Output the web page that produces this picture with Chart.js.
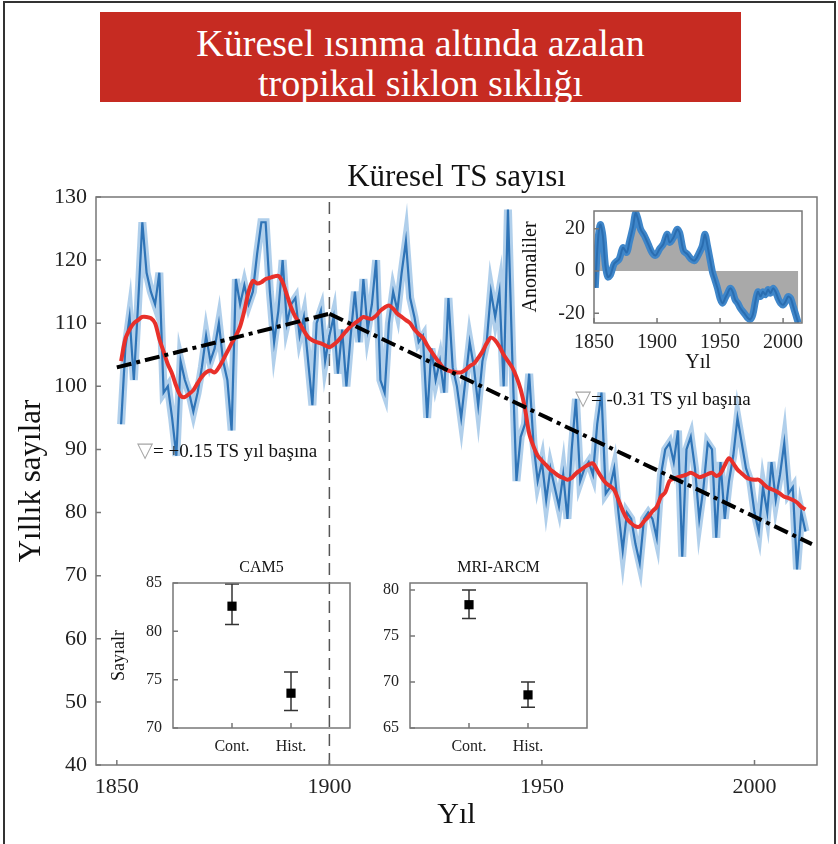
<!DOCTYPE html>
<html>
<head>
<meta charset="utf-8">
<script src="https://cdn.jsdelivr.net/npm/chart.js@4.4.0/dist/chart.umd.min.js"></script>
<style>
  body { margin: 0; background: #fff; font-family: "Liberation Serif", "Times New Roman", serif; }
  #page { position: relative; width: 838px; height: 844px; overflow: hidden; }
  #frame { position: absolute; left: 3px; top: 1px; width: 829px; height: 900px; border: 2px solid #333; border-bottom: none; }
  #banner { position: absolute; left: 100px; top: 12px; width: 641px; height: 90px; background: #c62b22;
            color: #fff; text-align: center; font-size: 38px; line-height: 40px; padding-top: 11px; box-sizing: border-box; }
  canvas { position: absolute; }
  .note { position: absolute; font-size: 19px; line-height: 22px; color: #111; white-space: nowrap; }
  .note span { color: #a8a8a8; font-size: 21px; }
</style>
</head>
<body>
<div id="page">
  <div id="frame"></div>
  <div id="banner">Küresel ısınma altında azalan<br>tropikal siklon sıklığı</div>
  <canvas id="main" width="838" height="694" style="left:0;top:150px"></canvas>
  <canvas id="anom" width="320" height="185" style="left:505px;top:190px"></canvas>
  <canvas id="cam5" width="260" height="210" style="left:100px;top:550px"></canvas>
  <canvas id="mri" width="240" height="210" style="left:360px;top:550px"></canvas>
  <div class="note" style="left:137px;top:439px"><span>▽</span>= +0.15 TS yıl başına</div>
  <div class="note" style="left:575px;top:387px"><span>▽</span>= -0.31 TS yıl başına</div>
</div>
<script>
// --------------------
// Data
// --------------------
const years = [];
for (let y = 1851; y <= 2012; y++) years.push(y);

// yearly global TS counts (blue)
const tsCounts = [
  94, 106, 111, 101, 113, 126, 118, 115, 113, 118,
  99, 100, 95, 89, 104, 101, 99, 96, 99, 103,
  108, 104, 106, 110, 104, 101, 93, 117, 113, 116,
  113, 115, 121, 126, 126, 115, 107, 112, 120, 110,
  113, 114, 108, 111, 104, 97, 110, 112, 104, 108,
  111, 102, 109, 100, 108, 115, 107, 117, 109, 113,
  120, 101, 99, 110, 115, 112, 118, 123, 114, 111,
  107, 108, 95, 106, 101, 104, 99, 114, 103, 100,
  95, 101, 107, 103, 97, 104, 107, 115, 111, 115,
  100, 128, 105, 85, 92, 94, 102, 91, 85, 88,
  82, 87, 84, 81, 86, 79, 90, 98, 85, 87,
  88, 86, 94, 99, 83, 84, 87, 80, 74, 80,
  79, 75, 72, 79, 80, 79, 76, 86, 90, 91,
  88, 93, 73, 90, 92, 87, 79, 84, 91, 90,
  76, 88, 79, 85, 89, 95, 91, 87, 85, 80,
  77, 84, 80, 88, 82, 86, 91, 83, 84, 71,
  80, 77
];

// smoothed counts (red)
const tsSmooth = [
  104, 107.5, 109, 110, 110.5, 111, 111, 110.8, 110, 107.5,
  105.5, 103.5, 102, 100, 98.5, 98.3, 98.8, 99.4, 100.5, 101.5,
  102.2, 102.5, 102.2, 103, 104.2, 105.5, 106.8, 108, 109.5, 112,
  115, 116.7, 116.3, 116.5, 117, 117.2, 117.4, 117.5, 116.5, 114.5,
  112.5, 111, 110, 108.8, 107.8, 107.3, 107, 106.8, 106.5, 106.2,
  106.6, 107.2, 108, 108.8, 109.5, 110, 110.5, 111, 110.8, 110.7,
  111.2, 112, 112.5, 112.8, 112.3, 111.5, 111, 110.5, 110, 109,
  108.3, 107.7, 106.5, 105.5, 104.5, 103.6, 102.8, 102.5, 102.3, 102.2,
  102.2, 102.6, 103.2, 103.6, 104.5, 105.5, 106.8, 107.7, 107.3, 106.3,
  105, 104, 103, 101.5, 99.5, 96.5, 92.5, 90.5, 89, 88.2,
  87.5, 86.8, 86.3, 85.8, 85.5, 85.2, 85.5, 86.2, 86.7, 87.2,
  87.6, 87.8, 86.7, 85.6, 84.7, 84.2, 83.6, 82, 80.3, 79,
  78.3, 77.8, 77.8, 78.6, 79.3, 80.2, 80.9, 82.5, 83.2, 85,
  85.4, 85.6, 85.8, 86, 86.3, 86, 85.6, 85.8, 86.1, 86.3,
  85.8, 86.2, 87.5, 88.6, 87.8, 86.8, 86.2, 85.6, 85.3, 85.2,
  85.2, 84.6, 84, 83.7, 83.4, 83, 82.5, 82.3, 82, 81.6,
  80.9, 80.5
];

// piecewise linear trends (black dash-dot)
const trendYears = [1850, 1900, 2013.5];
const trendValues = [103, 111.5, 75];
const breakYear = 1900;

const mainXTicks = [1850, 1900, 1950, 2000];
const mainYTicks = [40, 50, 60, 70, 80, 90, 100, 110, 120, 130];

// anomaly inset
const anomYears = [
  1851, 1853, 1855, 1857, 1859, 1861, 1863, 1866, 1870, 1873,
  1876, 1878, 1881, 1883, 1885, 1887, 1890, 1893, 1896, 1899,
  1902, 1905, 1908, 1910, 1913, 1916, 1918, 1921, 1924, 1927,
  1930, 1933, 1936, 1938, 1940, 1942, 1944, 1946, 1948, 1950,
  1952, 1954, 1956, 1958, 1960, 1962, 1964, 1966, 1968, 1970,
  1972, 1974, 1976, 1978, 1980, 1982, 1984, 1986, 1988, 1990,
  1992, 1994, 1996, 1998, 2000, 2002, 2004, 2006, 2008, 2010,
  2012
];
const anomValues = [
  -8, 13.5, 22, 16.7, 2.8, -2.8, -1.9, 3.4, 5.7, 11,
  8.8, 13.5, 21, 27.4, 24.3, 19.7, 16.7, 12.7, 8.8, 7.4,
  10.4, 12.7, 17.4, 13.5, 15.8, 19.7, 18, 9.6, 8, 5.7,
  5, 8, 12, 17.4, 12, 5.7, -0.5, -4.3, -8.2, -12.9,
  -15.2, -12.9, -10.5, -8.2, -9.8, -13.6, -15.2, -17.5, -19.1, -20.6,
  -22.2, -22.9, -20.6, -14.4, -9.8, -12.1, -9.8, -11.2, -8.8, -10.5,
  -8.2, -9.8, -12.9, -15.2, -16, -14.4, -12.1, -12.9, -16.7, -20.6,
  -24.5
];
const anomXTicks = [1850, 1900, 1950, 2000];
const anomYTicks = [-20, 0, 20];

// model experiments
const expLabels = ['Cont.', 'Hist.'];
const expPos = [1, 2];
const cam5Mean = [82.6, 73.6];
const cam5Low = [80.7, 71.8];
const cam5High = [84.9, 75.8];
const cam5YTicks = [70, 75, 80, 85];
const mriMean = [78.4, 68.6];
const mriLow = [76.9, 67.25];
const mriHigh = [80.0, 70.0];
const mriYTicks = [65, 70, 75, 80];

// --------------------
// Helpers
// --------------------
const SERIF = "'Liberation Serif', 'Times New Roman', serif";
Chart.defaults.font.family = SERIF;
Chart.defaults.color = '#222';

const pairs = (xs, ys) => xs.map((x, i) => ({ x, y: ys[i] }));
const fixTicks = list => scale => { scale.ticks = list.map(v => ({ value: v })); };

// frame around plot area, inward tick marks and the panel title
const boxPlugin = {
  id: 'box',
  afterDatasetsDraw(chart, args, opts) {
    const { ctx, chartArea: a, scales } = chart;
    ctx.save();
    ctx.strokeStyle = opts.color || '#777';
    ctx.lineWidth = opts.width || 1.5;
    ctx.strokeRect(a.left, a.top, a.right - a.left, a.bottom - a.top);
    const t = opts.tick || 5;
    ctx.beginPath();
    scales.x.ticks.forEach(tk => {
      const px = scales.x.getPixelForValue(tk.value);
      ctx.moveTo(px, a.bottom); ctx.lineTo(px, a.bottom - t);
    });
    scales.y.ticks.forEach(tk => {
      const py = scales.y.getPixelForValue(tk.value);
      ctx.moveTo(a.left, py); ctx.lineTo(a.left + t, py);
    });
    ctx.stroke();
    if (opts.title) {
      ctx.fillStyle = '#111';
      ctx.font = opts.titleSize + 'px ' + SERIF;
      ctx.textAlign = 'center';
      ctx.textBaseline = 'middle';
      ctx.fillText(opts.title, (a.left + a.right) / 2, a.top - opts.titleGap);
    }
    ctx.restore();
  }
};

const errorBars = {
  id: 'errorBars',
  beforeDatasetsDraw(chart, args, opts) {
    if (!opts.low) return;
    const { ctx, scales: { x, y } } = chart;
    ctx.save();
    ctx.strokeStyle = '#333';
    ctx.lineWidth = 1.5;
    opts.pos.forEach((p, i) => {
      const px = x.getPixelForValue(p);
      const lo = y.getPixelForValue(opts.low[i]);
      const hi = y.getPixelForValue(opts.high[i]);
      ctx.beginPath();
      ctx.moveTo(px, lo); ctx.lineTo(px, hi);
      ctx.moveTo(px - 7, lo); ctx.lineTo(px + 7, lo);
      ctx.moveTo(px - 7, hi); ctx.lineTo(px + 7, hi);
      ctx.stroke();
    });
    ctx.restore();
  }
};

const baseOptions = {
  responsive: false,
  animation: false,
  devicePixelRatio: 1,
  events: [],
  elements: { point: { radius: 0 }, line: { tension: 0, fill: false } }
};

function axis(cfg) {
  return {
    type: 'linear',
    min: cfg.min, max: cfg.max,
    afterBuildTicks: fixTicks(cfg.ticks),
    afterFit: s => { if (cfg.width) s.width = cfg.width; if (cfg.height) s.height = cfg.height; },
    grid: { display: false, drawTicks: false },
    border: { display: false },
    ticks: { font: { size: cfg.size }, color: '#222', padding: cfg.pad, callback: cfg.cb || (v => v), maxRotation: 0, autoSkip: false },
    title: cfg.title ? { display: true, text: cfg.title, color: '#111', font: { size: cfg.titleSize, lineHeight: 1.2 }, padding: cfg.titlePad } : { display: false }
  };
}

// --------------------
// Main chart
// --------------------
new Chart(document.getElementById('main'), {
  type: 'line',
  data: {
    datasets: [
      { data: pairs(trendYears.slice(0, 2), trendValues.slice(0, 2)), borderColor: '#000', borderWidth: 4, borderDash: [15, 5, 4, 5] },
      { data: pairs(trendYears.slice(1), trendValues.slice(1)), borderColor: '#000', borderWidth: 4, borderDash: [15, 5, 4, 5] },
      { data: pairs(years, tsSmooth), borderColor: '#e8302a', borderWidth: 4, tension: 0.3 },
      { data: pairs(years, tsCounts), borderColor: '#2f74b7', borderWidth: 2.2 },
      { data: pairs(years, tsCounts), borderColor: 'rgba(98,160,215,0.5)', borderWidth: 8 },
      { data: [{ x: breakYear, y: 40 }, { x: breakYear, y: 130 }], borderColor: '#555', borderWidth: 1.5, borderDash: [12, 7] }
    ]
  },
  options: {
    ...baseOptions,
    layout: { padding: { top: 47, right: 21, left: 0, bottom: 0 } },
    plugins: {
      legend: { display: false }, tooltip: { enabled: false },
      box: { color: '#777', width: 1.5, tick: 5, title: 'Küresel TS sayısı', titleSize: 31, titleGap: 19 }
    },
    scales: {
      x: axis({ min: 1845.1, max: 2014.7, ticks: mainXTicks, height: 79, size: 22, pad: 9, cb: v => String(v),
                title: 'Yıl', titleSize: 30, titlePad: { top: 0, bottom: 11 } }),
      y: axis({ min: 40, max: 130, ticks: mainYTicks, width: 96, size: 22, pad: 9,
                title: 'Yıllık sayılar', titleSize: 31, titlePad: { top: 13, bottom: 0 } })
    }
  },
  plugins: [boxPlugin]
});

// --------------------
// Anomaly inset
// --------------------
new Chart(document.getElementById('anom'), {
  type: 'line',
  data: {
    datasets: [
      { data: pairs(anomYears, anomValues), borderColor: '#2a6db0', borderWidth: 2, tension: 0.3 },
      { data: pairs(anomYears, anomValues), borderColor: '#3f86c9', borderWidth: 7, tension: 0.3 },
      { data: pairs(anomYears, anomValues), borderWidth: 0, fill: 'origin', backgroundColor: '#a9a9a9', tension: 0.3 }
    ]
  },
  options: {
    ...baseOptions,
    layout: { padding: { top: 18, right: 23, left: 0, bottom: 0 } },
    plugins: { legend: { display: false }, tooltip: { enabled: false }, box: { color: '#777', width: 1.5, tick: 5 } },
    scales: {
      x: axis({ min: 1850, max: 2015, ticks: anomXTicks, height: 52, size: 20, pad: 8, cb: v => String(v),
                title: 'Yıl', titleSize: 20, titlePad: { top: 0, bottom: 0 } }),
      y: axis({ min: -24.6, max: 28.4, ticks: anomYTicks, width: 89, size: 20, pad: 9,
                title: 'Anomaliler', titleSize: 20, titlePad: { top: 14, bottom: 0 } })
    }
  },
  plugins: [boxPlugin]
});

// --------------------
// Model insets
// --------------------
function modelChart(id, mean, low, high, yMin, yMax, yTicks, yWidth, rightPad, title, yTitle) {
  new Chart(document.getElementById(id), {
    type: 'scatter',
    data: { datasets: [{ data: pairs(expPos, mean), pointStyle: 'rect', pointRadius: 6.5, backgroundColor: '#000', borderWidth: 0 }] },
    options: {
      ...baseOptions,
      layout: { padding: { top: 33, right: rightPad, left: 0, bottom: 0 } },
      plugins: {
        legend: { display: false }, tooltip: { enabled: false },
        box: { color: '#777', width: 1.5, tick: 5, title, titleSize: 16, titleGap: 15 },
        errorBars: { pos: expPos, low, high }
      },
      scales: {
        x: axis({ min: 0, max: 3, ticks: expPos, height: 32, size: 16, pad: 9, cb: v => expLabels[v - 1] }),
        y: axis({ min: yMin, max: yMax, ticks: yTicks, width: yWidth, size: 16, pad: 11,
                  title: yTitle, titleSize: 18, titlePad: { top: 8, bottom: 0 } })
      }
    },
    plugins: [errorBars, boxPlugin]
  });
}

modelChart('cam5', cam5Mean, cam5Low, cam5High, 70, 85, cam5YTicks, 73, 10, 'CAM5', 'Sayıalr');
modelChart('mri', mriMean, mriLow, mriHigh, 65, 80.76, mriYTicks, 50, 13, 'MRI-ARCM', null);
</script>
</body>
</html>
